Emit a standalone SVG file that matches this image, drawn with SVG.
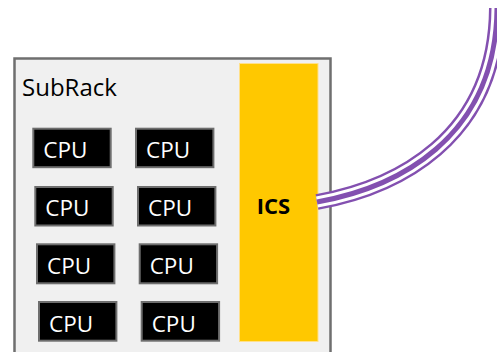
<svg xmlns="http://www.w3.org/2000/svg" width="497" height="352" viewBox="0 0 497 352">
<style>
.cpu rect{fill:#000;stroke:#6e6e6e;stroke-width:2}
.cpu text{fill:#fff;font-family:"Open Sans",sans-serif;font-size:22.5px}
.lbl{font-family:"Open Sans",sans-serif;fill:#000}
</style>
<rect width="497" height="352" fill="#fff"/>
<g id="subrack">
<rect x="14.5" y="58.5" width="316" height="310" fill="#f0f0f0" stroke="#6f6f6f" stroke-width="2.5"/>
<text class="lbl" x="22" y="95.5" font-size="24">SubRack</text>
</g>
<g id="ics">
<rect x="239.5" y="63.5" width="78.5" height="278" fill="#ffc800" stroke="#ffe08a" stroke-width="1"/>
<text class="lbl" x="273.5" y="214" font-size="22" font-weight="bold" text-anchor="middle">ICS</text>
</g>
<g id="cpu1" class="cpu"><rect x="33.3" y="128.7" width="77.4" height="38.5"/><text x="43.3" y="158.3">CPU</text></g>
<g id="cpu2" class="cpu"><rect x="136" y="128.7" width="77.4" height="38.5"/><text x="146" y="158.3">CPU</text></g>
<g id="cpu3" class="cpu"><rect x="35.3" y="187" width="77.4" height="38.5"/><text x="45.3" y="216.3">CPU</text></g>
<g id="cpu4" class="cpu"><rect x="138" y="187" width="77.4" height="38.5"/><text x="148" y="216.3">CPU</text></g>
<g id="cpu5" class="cpu"><rect x="37" y="244.3" width="77.4" height="39"/><text x="47" y="274">CPU</text></g>
<g id="cpu6" class="cpu"><rect x="139.7" y="244.3" width="77.4" height="39"/><text x="149.7" y="274">CPU</text></g>
<g id="cpu7" class="cpu"><rect x="39" y="302" width="77.4" height="38.7"/><text x="49" y="331.7">CPU</text></g>
<g id="cpu8" class="cpu"><rect x="141.7" y="302" width="77.4" height="38.7"/><text x="151.7" y="331.7">CPU</text></g>
<g id="connectors" fill="none">
<path id="link" d="M317,202 C395,188 496,140 497,8" stroke="#8350b0" stroke-width="16"/>
<path d="M317,202 C395,188 496,140 497,8" stroke="#fff" stroke-width="11"/>
<path d="M317,202 C395,188 496,140 497,8" stroke="#8350b0" stroke-width="5"/>
</g>
</svg>
